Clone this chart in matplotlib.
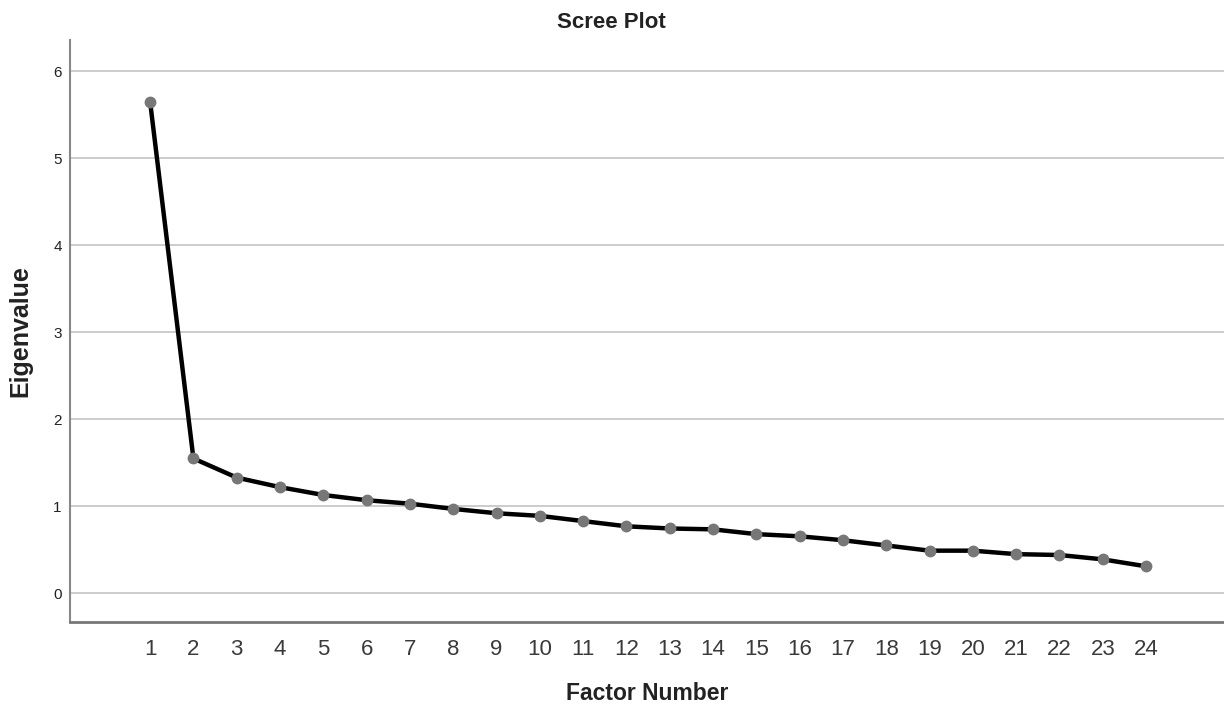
import matplotlib
matplotlib.use("Agg")
import matplotlib.pyplot as plt

factors = list(range(1, 25))
eigenvalues = [5.65, 1.55, 1.33, 1.22, 1.13, 1.07, 1.03, 0.97, 0.92, 0.89,
               0.83, 0.77, 0.745, 0.735, 0.68, 0.655, 0.61, 0.55, 0.49, 0.49,
               0.45, 0.44, 0.39, 0.31]
yticks = [0, 1, 2, 3, 4, 5, 6]

plt.rcParams['font.family'] = ['Liberation Sans', 'DejaVu Sans']

fig = plt.figure(figsize=(12.24, 7.06), dpi=100)
ax = fig.add_axes([70/1224, 1-622/706, 1-70/1224, (622-40)/706])

ax.set_xlim(-0.85, 25.8)
ax.set_ylim(-0.33, 6.36)
ax.set_yticks(yticks)
ax.set_xticks(factors)
ax.set_xticklabels([str(f) for f in factors], fontsize=16, color='#3a3a3a')
ax.set_yticklabels([str(t) for t in yticks], fontsize=11, color='#222222')
ax.tick_params(length=0)
ax.tick_params(axis='y', pad=6)
ax.tick_params(axis='x', pad=12)

for t in yticks:
    ax.axhline(t, color='#c8c8c8', linewidth=1.3, zorder=1)

ax.plot(factors, eigenvalues, color='black', linewidth=3.2, zorder=3,
        marker='o', markersize=7.5, markerfacecolor='#777777',
        markeredgecolor='#777777')

for s in ['top', 'right']:
    ax.spines[s].set_visible(False)
ax.spines['left'].set_color('#888888')
ax.spines['bottom'].set_color('#777777')
ax.spines['left'].set_linewidth(1.5)
ax.spines['bottom'].set_linewidth(2)

fig.text(611/1224, 1-22/706, 'Scree Plot', ha='center', va='center',
         fontsize=16, fontweight='bold', color='#222222')
fig.text(20/1224, 1-331/706, 'Eigenvalue', ha='center', va='center',
         rotation=90, fontsize=18, fontweight='bold', color='#222222')
fig.text(647/1224, 1-693/706, 'Factor Number', ha='center', va='center',
         fontsize=16.5, fontweight='bold', color='#222222')

fig.savefig('out.png', dpi=100, facecolor='white')
